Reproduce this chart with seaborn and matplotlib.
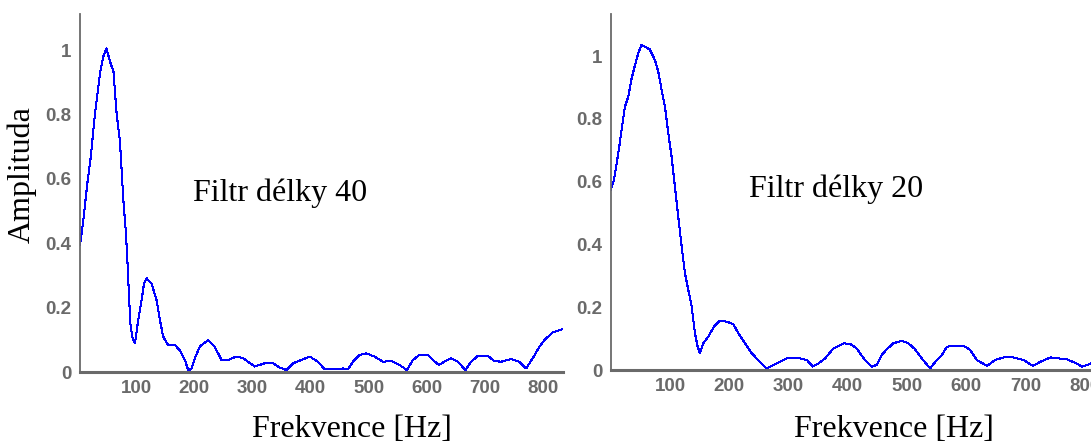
import matplotlib
matplotlib.use("Agg")
import matplotlib.pyplot as plt
import seaborn as sns
import pandas as pd

# Magnitude responses of two FIR filters (length 40 and 20)
freq_40 = [3.4, 9, 16, 22, 29, 38, 43.5, 49, 55, 61, 66.5, 72, 78, 82.5, 85.5, 88, 90.5, 94, 98,
           103.5, 109.5, 113.5, 118, 126.5, 135, 141, 146.5, 155, 166.5, 175, 184, 189.5, 195, 201,
           209.5, 224, 235, 247, 258, 272.5, 284, 304, 321, 335.5, 348, 359, 370, 384, 398.5, 413,
           424.5, 433, 456, 464.5, 473, 484.5, 496, 510, 524.5, 539, 553, 566, 576, 587.5, 602,
           610.5, 621, 630.5, 642, 653.5, 666.5, 676.5, 688, 705, 716.5, 728, 745, 759.5, 771,
           782.5, 794, 802.5, 816.5, 834]
amp_40 = [0.394, 0.47, 0.586, 0.669, 0.80, 0.93, 0.98, 1.005, 0.964, 0.933, 0.80, 0.72, 0.534,
          0.43, 0.327, 0.224, 0.141, 0.105, 0.089, 0.161, 0.224, 0.275, 0.291, 0.275, 0.224, 0.161,
          0.11, 0.084, 0.084, 0.068, 0.037, 0.006, 0.009, 0.043, 0.079, 0.099, 0.079, 0.037, 0.037,
          0.048, 0.043, 0.017, 0.027, 0.027, 0.013, 0.006, 0.027, 0.037, 0.048, 0.032, 0.008, 0.008,
          0.011, 0.008, 0.032, 0.053, 0.058, 0.048, 0.032, 0.034, 0.022, 0.006, 0.037, 0.053, 0.053,
          0.037, 0.022, 0.032, 0.043, 0.032, 0.006, 0.032, 0.05, 0.05, 0.034, 0.032, 0.04, 0.032,
          0.011, 0.043, 0.079, 0.099, 0.123, 0.133]

freq_20 = [0, 5.4, 10, 14.4, 20, 24, 29.6, 35.3, 41, 46.5, 52, 58, 66, 74.7, 80.3, 86, 91.6, 97.2,
           102.8, 108.4, 114, 119.8, 125.3, 131, 136.7, 142.2, 146.8, 150.7, 156.3, 164.7, 174.3,
           184.5, 195.8, 207, 215.5, 226.7, 238, 252, 263.3, 274.5, 285.8, 297, 319.6, 331, 341,
           350.5, 361.8, 376, 384.3, 393, 404, 415, 429, 440.7, 449, 457.6, 466, 477, 491.4, 502.5,
           513.8, 525, 539, 550.5, 559, 567.4, 575.8, 595.5, 606.8, 618, 635, 649, 663, 680, 697,
           712.7, 725, 742, 756, 770, 784, 795.4, 803.8, 811]
amp_20 = [0.573, 0.605, 0.658, 0.711, 0.786, 0.839, 0.87, 0.929, 0.971, 1.009, 1.035, 1.03, 1.021,
          0.987, 0.95, 0.892, 0.839, 0.754, 0.679, 0.584, 0.488, 0.393, 0.308, 0.255, 0.202, 0.117,
          0.074, 0.053, 0.085, 0.106, 0.138, 0.157, 0.154, 0.146, 0.117, 0.085, 0.053, 0.026, 0.005,
          0.016, 0.026, 0.037, 0.037, 0.032, 0.011, 0.021, 0.037, 0.069, 0.076, 0.085, 0.083, 0.069,
          0.032, 0.011, 0.016, 0.048, 0.066, 0.085, 0.093, 0.085, 0.066, 0.037, 0.005, 0.032, 0.048,
          0.074, 0.077, 0.077, 0.064, 0.032, 0.013, 0.032, 0.04, 0.04, 0.032, 0.013, 0.026, 0.04,
          0.037, 0.034, 0.023, 0.011, 0.016, 0.021]

x_ticks = [100, 200, 300, 400, 500, 600, 700, 800]
x_tick_labels = ["100", "200", "300", "400", "500", "600", "700", "800"]
y_ticks = [0, 0.2, 0.4, 0.6, 0.8, 1.0]
y_tick_labels = ["0", "0.2", "0.4", "0.6", "0.8", "1"]

panel_titles = ["Filtr délky 40", "Filtr délky 20"]
x_label = "Frekvence [Hz]"
y_label = "Amplituda"

sns.set_style("white")
plt.rcParams["font.family"] = ["DejaVu Sans"]

W, H = 1091, 444
fig = plt.figure(figsize=(W / 100, H / 100), dpi=100)

axis_grey = "#6a6a6a"
serif = ["Liberation Serif", "DejaVu Serif"]

def px_axes(left, right, top, bottom):
    return fig.add_axes([left / W, 1 - bottom / H, (right - left) / W, (bottom - top) / H])

panels = [
    dict(df=pd.DataFrame({"f": freq_40, "a": amp_40}), rect=(80, 563.3, 14, 372),
         xlim=(3.4, 835), ylim=(0, 1.112)),
    dict(df=pd.DataFrame({"f": freq_20, "a": amp_20}), rect=(610.7, 1105.4, 14, 370),
         xlim=(0, 835), ylim=(0, 1.134)),
]

axes = []
for p in panels:
    ax = px_axes(*p["rect"])
    sns.lineplot(data=p["df"], x="f", y="a", ax=ax, color="#0000ff", linewidth=0.75,
                 estimator=None, antialiased=False)
    ax.set_xlim(*p["xlim"])
    ax.set_ylim(*p["ylim"])
    ax.set_xticks(x_ticks)
    ax.set_xticklabels(x_tick_labels)
    ax.set_yticks(y_ticks)
    ax.set_yticklabels(y_tick_labels)
    ax.set_xlabel("")
    ax.set_ylabel("")
    for side in ("top", "right"):
        ax.spines[side].set_visible(False)
    ax.spines["left"].set_color(axis_grey)
    ax.spines["left"].set_linewidth(1.3)
    ax.spines["bottom"].set_color(axis_grey)
    ax.spines["bottom"].set_linewidth(2.2)
    ax.tick_params(axis="both", direction="in", length=4, width=1, color=axis_grey,
                   labelcolor=axis_grey, labelsize=13.5, pad=6)
    for lab in ax.get_xticklabels() + ax.get_yticklabels():
        lab.set_fontfamily(["Liberation Sans", "DejaVu Sans"])
        lab.set_fontweight("bold")
    ax.set_facecolor("white")
    axes.append(ax)

# Panel captions inside the plot area
fig.text(279.7 / W, 1 - 201 / H, panel_titles[0], ha="center", va="baseline",
         fontsize=23, family=serif, color="black")
fig.text(836 / W, 1 - 197 / H, panel_titles[1], ha="center", va="baseline",
         fontsize=23, family=serif, color="black")

# Shared labels
fig.text(22 / W, 1 - 175 / H, y_label, rotation=90, ha="center", va="center",
         fontsize=23, family=serif, color="black")
fig.text(351.5 / W, 1 - 437 / H, x_label, ha="center", va="baseline",
         fontsize=23, family=serif, color="black")
fig.text(894 / W, 1 - 437 / H, x_label, ha="center", va="baseline",
         fontsize=23, family=serif, color="black")

fig.savefig("out.png", dpi=100, facecolor="white")
